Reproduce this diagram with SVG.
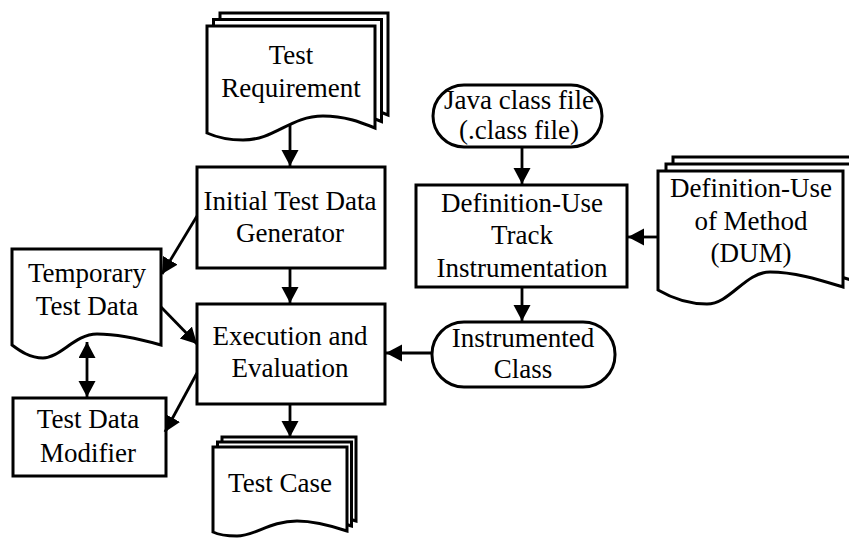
<svg xmlns="http://www.w3.org/2000/svg" width="849" height="538" viewBox="0 0 849 538">
  <style>
    .shape { fill: #fff; stroke: #000; stroke-width: 3; stroke-linejoin: miter; }
    .lbl { font-family: "Liberation Serif", "Times New Roman", serif; font-size: 27px; fill: #000; text-anchor: middle; }
    .edge { fill: none; stroke: #000; stroke-width: 2.8; }
  </style>
  <defs>
    <marker id="arrow" markerUnits="userSpaceOnUse" markerWidth="17" markerHeight="18" refX="16" refY="8.5" orient="auto-start-reverse">
      <path d="M0,0 L16,8.5 L0,17 Z" fill="#000"/>
    </marker>
    <path id="docTR" d="M207,26 H375 V128 C360,122 345,116 323,116 C290,116 275,140 243,140 C228,140 216,137 207,133 Z"/>
    <path id="docDUM" d="M658,171 H843 V287 C820,280 795,272 770,272 C745,272 730,304 707,304 C685,304 670,297 658,290 Z"/>
    <path id="docTC" d="M213,447 H347 V531 C335,527 315,521 297,521 C270,521 255,536 237,536 C227,536 219,535 213,532 Z"/>
  </defs>
  <rect width="849" height="538" fill="#fff"/>

  <g id="test-requirement">
    <use href="#docTR" class="shape" transform="translate(13,-13)"/>
    <use href="#docTR" class="shape" transform="translate(6.5,-6.5)"/>
    <use href="#docTR" class="shape"/>
    <text class="lbl" x="291" y="64">Test</text>
    <text class="lbl" x="291" y="97">Requirement</text>
  </g>

  <g id="initial-generator">
    <rect class="shape" x="197" y="167" width="188" height="101"/>
    <text class="lbl" x="290" y="210">Initial Test Data</text>
    <text class="lbl" x="290" y="242">Generator</text>
  </g>

  <g id="execution-evaluation">
    <rect class="shape" x="197" y="304" width="188" height="100"/>
    <text class="lbl" x="290" y="345">Execution and</text>
    <text class="lbl" x="290" y="377">Evaluation</text>
  </g>

  <g id="temporary-data">
    <path class="shape" d="M12,249 H161 V345 C140,339 120,334 97,334 C75,334 60,358 43,358 C30,358 20,351 12,345 Z"/>
    <text class="lbl" x="87" y="282">Temporary</text>
    <text class="lbl" x="87" y="315">Test Data</text>
  </g>

  <g id="data-modifier">
    <rect class="shape" x="13" y="398" width="153" height="78"/>
    <text class="lbl" x="88" y="428">Test Data</text>
    <text class="lbl" x="88" y="462">Modifier</text>
  </g>

  <g id="test-case">
    <use href="#docTC" class="shape" transform="translate(9,-10)"/>
    <use href="#docTC" class="shape" transform="translate(4.5,-5)"/>
    <use href="#docTC" class="shape"/>
    <text class="lbl" x="280" y="492">Test Case</text>
  </g>

  <g id="java-class">
    <rect class="shape" x="433" y="85" width="169" height="62" rx="31" ry="31"/>
    <text class="lbl" x="519" y="109">Java class file</text>
    <text class="lbl" x="519" y="139">(.class file)</text>
  </g>

  <g id="du-instrumentation">
    <rect class="shape" x="416" y="185" width="211" height="102"/>
    <text class="lbl" x="522" y="212">Definition-Use</text>
    <text class="lbl" x="522" y="244">Track</text>
    <text class="lbl" x="522" y="277">Instrumentation</text>
  </g>

  <g id="du-method">
    <use href="#docDUM" class="shape" transform="translate(15,-14)"/>
    <use href="#docDUM" class="shape" transform="translate(8,-7)"/>
    <use href="#docDUM" class="shape"/>
    <text class="lbl" x="751" y="197">Definition-Use</text>
    <text class="lbl" x="751" y="230">of Method</text>
    <text class="lbl" x="751" y="262">(DUM)</text>
  </g>

  <g id="instrumented-class">
    <rect class="shape" x="432" y="322" width="183" height="65" rx="32" ry="32"/>
    <text class="lbl" x="523" y="347">Instrumented</text>
    <text class="lbl" x="523" y="378">Class</text>
  </g>

  <g id="connectors">
    <line class="edge" x1="290" y1="125" x2="290" y2="166" marker-end="url(#arrow)"/>
    <line class="edge" x1="290" y1="269" x2="290" y2="303" marker-end="url(#arrow)"/>
    <line class="edge" x1="290" y1="405" x2="290" y2="437" marker-end="url(#arrow)"/>
    <line class="edge" x1="197" y1="216" x2="162" y2="274" marker-end="url(#arrow)"/>
    <line class="edge" x1="161" y1="307" x2="197" y2="344" marker-end="url(#arrow)"/>
    <line class="edge" x1="197" y1="373" x2="165" y2="432" marker-end="url(#arrow)"/>
    <line class="edge" x1="87" y1="342" x2="87" y2="397" marker-start="url(#arrow)" marker-end="url(#arrow)"/>
    <line class="edge" x1="522" y1="148" x2="522" y2="184" marker-end="url(#arrow)"/>
    <line class="edge" x1="522" y1="288" x2="522" y2="321" marker-end="url(#arrow)"/>
    <line class="edge" x1="657" y1="237" x2="628" y2="237" marker-end="url(#arrow)"/>
    <line class="edge" x1="431" y1="353" x2="386" y2="353" marker-end="url(#arrow)"/>
  </g>
</svg>
